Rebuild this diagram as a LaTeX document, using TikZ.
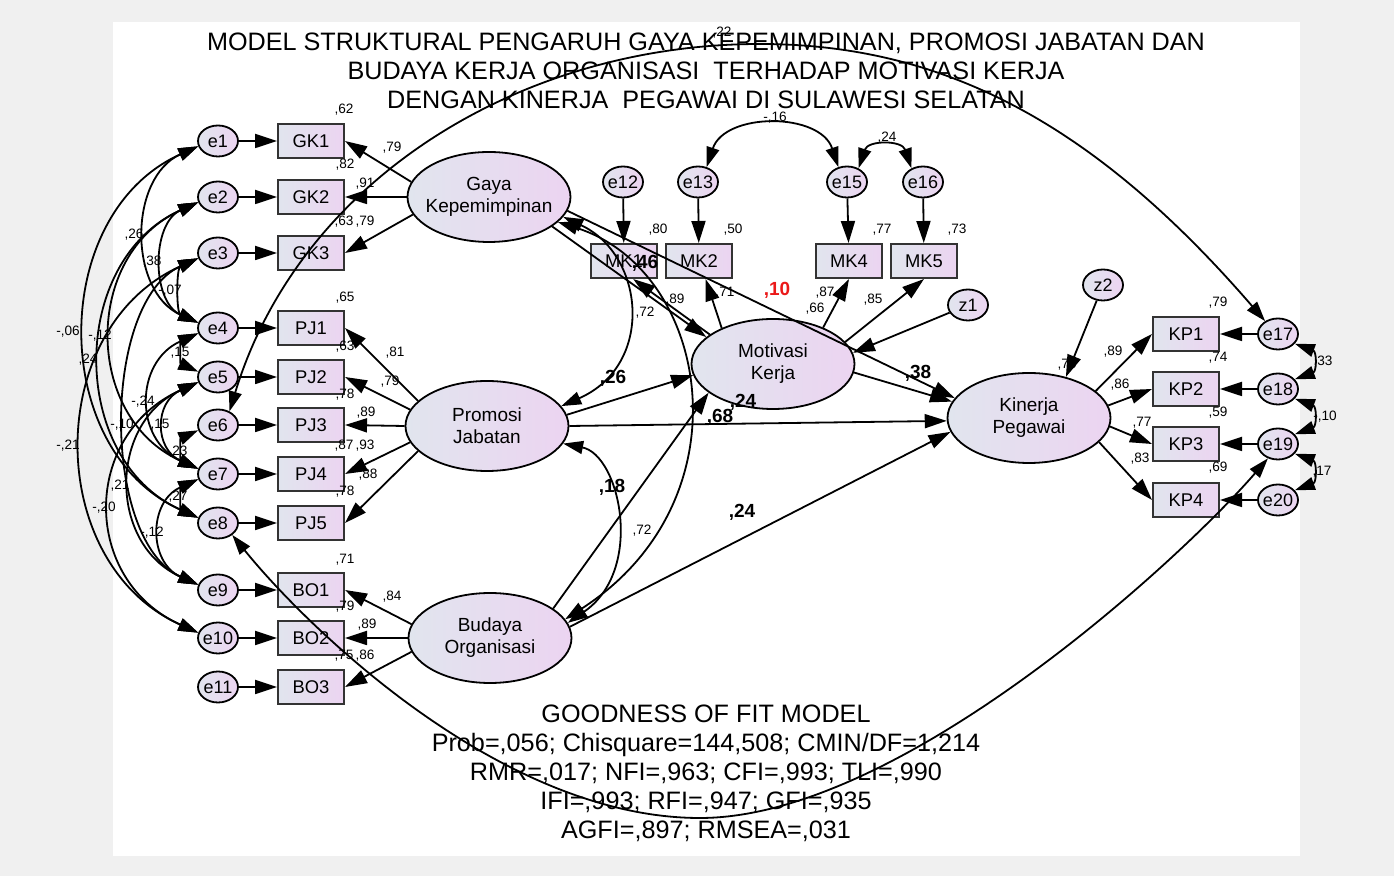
\documentclass[tikz,border=0pt]{standalone}
\usepackage{fontspec}
\setmainfont{Liberation Sans}
\usetikzlibrary{arrows.meta,shapes.geometric}
\definecolor{fillL}{RGB}{225,229,238}
\definecolor{fillR}{RGB}{236,212,241}
\definecolor{bggray}{RGB}{240,240,240}
\definecolor{lred}{RGB}{235,25,25}
\newcommand\lcor[3]{\draw[cor] (#1.195) .. controls +(-#3,0.45*#3) and +(-#3,-0.45*#3) .. (#2.165);}
\tikzset{
 arr/.style={line width=0.9pt, -{Triangle[length=11pt,width=7pt]}},
 cor/.style={line width=0.9pt, {Triangle[length=10pt,width=6.5pt]}-{Triangle[length=10pt,width=6.5pt]}},
 grad/.style={left color=fillL, right color=fillR},
 err/.style={ellipse, draw=black, line width=0.9pt, grad, minimum width=20pt, minimum height=15.5pt, inner xsep=-1pt, inner ysep=0pt, font=\fontsize{9}{10}\selectfont},
 obs/.style={rectangle, draw=black!80, line width=1pt, grad, minimum width=33pt, minimum height=17pt, inner sep=0pt, font=\fontsize{9.2}{10}\selectfont},
 lat/.style={ellipse, draw=black, line width=0.9pt, grad, minimum width=81.5pt, minimum height=45pt, inner xsep=-4pt, inner ysep=0pt, align=center, font=\fontsize{9.5}{11}\selectfont},
 sm/.style={inner sep=0pt, font=\fontsize{6.8}{7}\selectfont},
 bd/.style={inner sep=0pt, font=\fontsize{9.5}{10}\selectfont\bfseries},
 ttl/.style={inner sep=0pt, align=center, font=\fontsize{12.6}{14.5}\selectfont},
}
\begin{document}
\begin{tikzpicture}[x=0.5pt,y=-0.5pt]
\useasboundingbox (0,0) rectangle (1394,876);
\fill[bggray] (0,0) rectangle (1394,876);
\fill[white] (113,22) rectangle (1300,856);

% texts
\node[ttl] (title) at (706,71) {MODEL STRUKTURAL PENGARUH GAYA KEPEMIMPINAN, PROMOSI JABATAN DAN\\BUDAYA KERJA ORGANISASI\ \ TERHADAP MOTIVASI KERJA\\DENGAN KINERJA\ \ PEGAWAI DI SULAWESI SELATAN};
\node[ttl] (gof) at (706,773) {GOODNESS OF FIT MODEL\\Prob=,056; Chisquare=144,508; CMIN/DF=1,214\\RMR=,017; NFI=,963; CFI=,993; TLI=,990\\IFI=,993; RFI=,947; GFI=,935\\AGFI=,897; RMSEA=,031};

% left errors and indicators
\foreach \n/\yy/\lbl in {1/141/GK1,2/197/GK2,3/253/GK3,4/328/PJ1,5/377/PJ2,6/425/PJ3,7/474/PJ4,8/523/PJ5,9/590/BO1,10/638/BO2,11/687/BO3}{
  \node[err] (e\n) at (218,\yy) {e\n};
  \node[obs] (o\n) at (311,\yy) {\lbl};
  \draw[arr] (e\n) -- (o\n);
}

% latents
\node[lat] (gaya) at (489,197) {Gaya\\Kepemimpinan};
\node[lat] (prom) at (487,426) {Promosi\\Jabatan};
\node[lat] (bud) at (490,638) {Budaya\\Organisasi};
\node[lat] (mot) at (773,364) {Motivasi\\Kerja};
\node[lat] (kin) at (1029,418) {Kinerja\\Pegawai};

% motivasi indicators
\node[err] (e12) at (623,182) {e12};
\node[err] (e13) at (698,182) {e13};
\node[err] (e15) at (847,182) {e15};
\node[err] (e16) at (923,182) {e16};
\node[obs] (mk1) at (624,261) {MK1};
\node[obs] (mk2) at (699,261) {MK2};
\node[obs] (mk4) at (849,261) {MK4};
\node[obs] (mk5) at (924,261) {MK5};
\node[err] (z1) at (968,305) {z1};
\node[err] (z2) at (1103,285) {z2};

% kinerja indicators
\foreach \n/\yy/\en in {1/334/17,2/389/18,3/444/19,4/500/20}{
  \node[obs] (kp\n) at (1186,\yy) {KP\n};
  \node[err] (e\en) at (1278,\yy) {e\en};
  \draw[arr] (e\en) -- (kp\n);
}

% error -> MK
\draw[arr] (e12) -- (mk1);
\draw[arr] (e13) -- (mk2);
\draw[arr] (e15) -- (mk4);
\draw[arr] (e16) -- (mk5);

% loadings
\draw[arr] (gaya.169) -- (o1.east);
\draw[arr] (gaya.west) -- (o2.east);
\draw[arr] (gaya.193) -- (o3.east);
\draw[arr] (prom.160) -- (o4.east);
\draw[arr] (prom.168) -- (o5.east);
\draw[arr] (prom.west) -- (o6.east);
\draw[arr] (prom.192) -- (o7.east);
\draw[arr] (prom.200) -- (o8.east);
\draw[arr] (bud.170) -- (o9.east);
\draw[arr] (bud.west) -- (o10.east);
\draw[arr] (bud.190) -- (o11.east);
\draw[arr] (mot.155) -- (mk1.297);
\draw[arr] (mot.145) -- (mk2.290);
\draw[arr] (mot.36) -- (mk4.south);
\draw[arr] (mot.17) -- (mk5.south);
\draw[arr] (kin.22) -- (kp1.west);
\draw[arr] (kin.9) -- (kp2.west);
\draw[arr] (kin.354) -- (kp3.west);
\draw[arr] (kin.341) -- (kp4.west);
\draw[arr] (z1) -- (mot.8);
\draw[arr] (z2) -- (kin.48);

% structural paths
\draw[arr] (gaya.335) -- (mot.158);
\draw[arr] (gaya.350) -- (kin.165);
\draw[arr] (prom.8) -- (mot.188);
\draw[arr] (prom.east) -- (kin.182);
\draw[arr] (bud.25) -- (mot.204);
\draw[arr] (bud.8) -- (kin.190);
\draw[arr] (mot.354) -- (kin.168);

% exogenous correlations
\draw[cor] (gaya.345) .. controls (645,255) and (655,365) .. (prom.15);
\draw[cor] (gaya.340) .. controls (710,270) and (750,500) .. (bud.14);
\draw[cor] (prom.347) .. controls (620,455) and (645,570) .. (bud.11);

% top error correlations
\draw[cor] (e13.60) .. controls (725,112) and (820,112) .. (e15.120);
\draw[cor] (e15.50) .. controls (868,140) and (902,140) .. (e16.130);

% right error correlations
\draw[cor] (e17.-30) .. controls +(22,8) and +(22,-8) .. (e18.30);
\draw[cor] (e18.-30) .. controls +(22,8) and +(22,-8) .. (e19.30);
\draw[cor] (e19.-30) .. controls +(22,8) and +(22,-8) .. (e20.30);

% big arcs
\draw[cor] (e6.50) .. controls (300,180) and (520,44) .. (760,44) .. controls (950,44) and (1100,130) .. (e17.135);
\draw[cor] (e8.-40) .. controls (305,625) and (500,818) .. (700,818) .. controls (900,818) and (1180,560) .. (e19.235);

% left error correlations
\lcor{e1}{e4}{70}
\lcor{e2}{e4}{47}
\lcor{e3}{e4}{22}
\lcor{e1}{e8}{150}
\lcor{e2}{e7}{115}
\lcor{e2}{e8}{130}
\lcor{e4}{e5}{18}
\lcor{e4}{e7}{64}
\lcor{e3}{e9}{97}
\lcor{e5}{e7}{44}
\lcor{e6}{e7}{18}
\lcor{e3}{e10}{155}
\lcor{e5}{e9}{90}
\lcor{e7}{e8}{18}
\lcor{e5}{e10}{117}
\lcor{e7}{e9}{50}

% small labels
\foreach \xx/\yy/\tx [count=\i] in {134/235/{,26}, 152/262/{,38}, 170/291/{-,07}, 68/332/{-,06}, 100/336/{-,12}, 88/360/{,24}, 180/353/{,15}, 143/402/{-,24}, 122/425/{-,10}, 160/425/{,15}, 178/452/{,23}, 68/446/{-,21}, 120/486/{,21}, 178/497/{,27}, 104/508/{-,20}, 152/533/{-,12},
344/110/{,62}, 392/148/{,79}, 345/165/{,82}, 365/184/{,91}, 344/222/{,63}, 365/222/{,79}, 345/298/{,65}, 395/353/{,81}, 345/347/{,63}, 390/382/{,79}, 345/395/{,78}, 366/413/{,89}, 344/446/{,87}, 365/446/{,93}, 368/475/{,88}, 345/492/{,78}, 345/560/{,71}, 392/597/{,84}, 345/607/{,79}, 367/625/{,89}, 344/656/{,75}, 365/656/{,86},
658/230/{,80}, 733/230/{,50}, 882/230/{,77}, 957/230/{,73}, 775/118/{-,16}, 887/138/{,24}, 722/33/{,22}, 675/300/{,89}, 645/313/{,72}, 725/293/{,71}, 825/293/{,87}, 815/309/{,66}, 873/300/{,85}, 642/531/{,72},
1113/352/{,89}, 1120/385/{,86}, 1142/423/{,77}, 1140/459/{,83}, 1218/303/{,79}, 1218/358/{,74}, 1218/413/{,59}, 1218/468/{,69}, 1067/365/{,75}, 1323/362/{,33}, 1325/417/{-,10}, 1322/472/{,17}}{
  \node[sm] (lab\i) at (\xx,\yy) {\tx};
}

% bold path labels
\node[bd] (b46) at (645,263) {,46};
\node[bd] (b26) at (613,378) {,26};
\node[bd] (b38) at (918,373) {,38};
\node[bd] (b24a) at (743,402) {,24};
\node[bd] (b68) at (720,417) {,68};
\node[bd] (b18) at (612,487) {,18};
\node[bd] (b24b) at (742,512) {,24};
\node[bd, text=lred] (b10) at (777,290) {,10};
\end{tikzpicture}
\end{document}
